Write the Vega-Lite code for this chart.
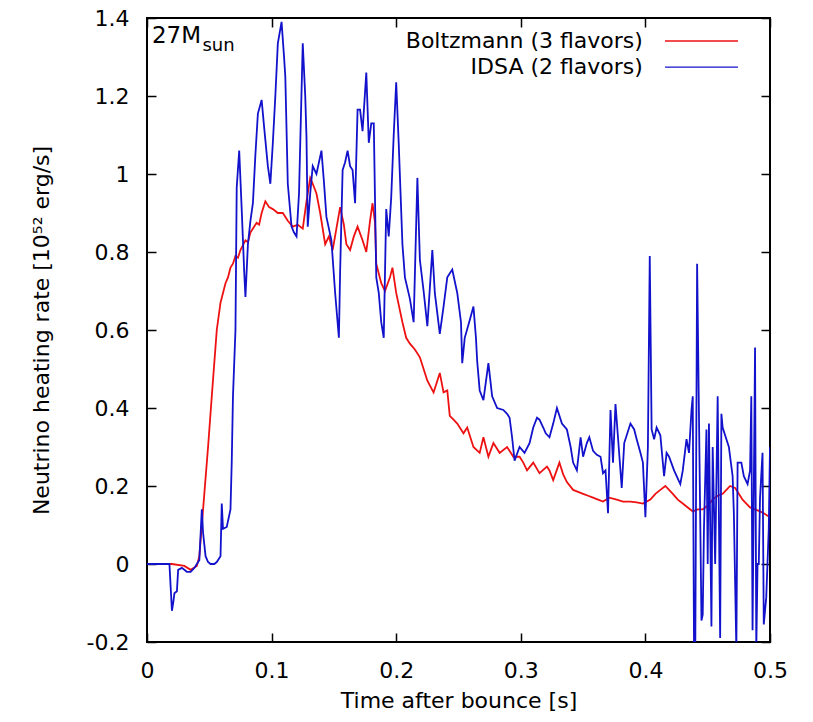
{
  "$schema": "https://vega.github.io/schema/vega-lite/v6.json",
  "width": 623,
  "height": 624,
  "autosize": "none",
  "padding": {"left": 147, "top": 18, "right": 43, "bottom": 80},
  "background": "white",
  "config": {
    "view": {"stroke": "#000", "strokeWidth": 2},
    "font": "DejaVu Sans",
    "axis": {
      "domain": false, "grid": false, "ticks": true, "tickSize": -9, "tickColor": "#000", "tickWidth": 1.5,
      "labelFontSize": 22, "labelColor": "#000", "labelFont": "DejaVu Sans", "labelFlush": false, "labelOverlap": false,
      "titleFontSize": 22, "titleColor": "#000", "titleFontWeight": "normal", "titleFont": "DejaVu Sans"
    }
  },
  "datasets": {
    "curves": [
      {"series": "Boltzmann (3 flavors)", "t": 0.000, "rate": 0},
      {"series": "Boltzmann (3 flavors)", "t": 0.020, "rate": 0},
      {"series": "Boltzmann (3 flavors)", "t": 0.030, "rate": -0.005},
      {"series": "Boltzmann (3 flavors)", "t": 0.035, "rate": -0.015},
      {"series": "Boltzmann (3 flavors)", "t": 0.040, "rate": -0.005},
      {"series": "Boltzmann (3 flavors)", "t": 0.042, "rate": 0.02},
      {"series": "Boltzmann (3 flavors)", "t": 0.045, "rate": 0.14},
      {"series": "Boltzmann (3 flavors)", "t": 0.049, "rate": 0.30},
      {"series": "Boltzmann (3 flavors)", "t": 0.052, "rate": 0.43},
      {"series": "Boltzmann (3 flavors)", "t": 0.056, "rate": 0.60},
      {"series": "Boltzmann (3 flavors)", "t": 0.059, "rate": 0.67},
      {"series": "Boltzmann (3 flavors)", "t": 0.063, "rate": 0.72},
      {"series": "Boltzmann (3 flavors)", "t": 0.065, "rate": 0.735},
      {"series": "Boltzmann (3 flavors)", "t": 0.067, "rate": 0.76},
      {"series": "Boltzmann (3 flavors)", "t": 0.069, "rate": 0.77},
      {"series": "Boltzmann (3 flavors)", "t": 0.071, "rate": 0.79},
      {"series": "Boltzmann (3 flavors)", "t": 0.073, "rate": 0.785},
      {"series": "Boltzmann (3 flavors)", "t": 0.075, "rate": 0.805},
      {"series": "Boltzmann (3 flavors)", "t": 0.079, "rate": 0.83},
      {"series": "Boltzmann (3 flavors)", "t": 0.081, "rate": 0.825},
      {"series": "Boltzmann (3 flavors)", "t": 0.083, "rate": 0.85},
      {"series": "Boltzmann (3 flavors)", "t": 0.088, "rate": 0.875},
      {"series": "Boltzmann (3 flavors)", "t": 0.090, "rate": 0.87},
      {"series": "Boltzmann (3 flavors)", "t": 0.092, "rate": 0.90},
      {"series": "Boltzmann (3 flavors)", "t": 0.095, "rate": 0.93},
      {"series": "Boltzmann (3 flavors)", "t": 0.098, "rate": 0.915},
      {"series": "Boltzmann (3 flavors)", "t": 0.101, "rate": 0.91},
      {"series": "Boltzmann (3 flavors)", "t": 0.105, "rate": 0.90},
      {"series": "Boltzmann (3 flavors)", "t": 0.109, "rate": 0.90},
      {"series": "Boltzmann (3 flavors)", "t": 0.113, "rate": 0.88},
      {"series": "Boltzmann (3 flavors)", "t": 0.117, "rate": 0.865},
      {"series": "Boltzmann (3 flavors)", "t": 0.121, "rate": 0.87},
      {"series": "Boltzmann (3 flavors)", "t": 0.125, "rate": 0.86},
      {"series": "Boltzmann (3 flavors)", "t": 0.128, "rate": 0.93},
      {"series": "Boltzmann (3 flavors)", "t": 0.131, "rate": 0.99},
      {"series": "Boltzmann (3 flavors)", "t": 0.133, "rate": 0.975},
      {"series": "Boltzmann (3 flavors)", "t": 0.136, "rate": 0.95},
      {"series": "Boltzmann (3 flavors)", "t": 0.139, "rate": 0.90},
      {"series": "Boltzmann (3 flavors)", "t": 0.143, "rate": 0.82},
      {"series": "Boltzmann (3 flavors)", "t": 0.146, "rate": 0.84},
      {"series": "Boltzmann (3 flavors)", "t": 0.149, "rate": 0.805},
      {"series": "Boltzmann (3 flavors)", "t": 0.152, "rate": 0.86},
      {"series": "Boltzmann (3 flavors)", "t": 0.155, "rate": 0.915},
      {"series": "Boltzmann (3 flavors)", "t": 0.158, "rate": 0.87},
      {"series": "Boltzmann (3 flavors)", "t": 0.160, "rate": 0.82},
      {"series": "Boltzmann (3 flavors)", "t": 0.163, "rate": 0.805},
      {"series": "Boltzmann (3 flavors)", "t": 0.166, "rate": 0.84},
      {"series": "Boltzmann (3 flavors)", "t": 0.169, "rate": 0.865},
      {"series": "Boltzmann (3 flavors)", "t": 0.173, "rate": 0.83},
      {"series": "Boltzmann (3 flavors)", "t": 0.176, "rate": 0.80},
      {"series": "Boltzmann (3 flavors)", "t": 0.179, "rate": 0.88},
      {"series": "Boltzmann (3 flavors)", "t": 0.181, "rate": 0.925},
      {"series": "Boltzmann (3 flavors)", "t": 0.183, "rate": 0.875},
      {"series": "Boltzmann (3 flavors)", "t": 0.184, "rate": 0.77},
      {"series": "Boltzmann (3 flavors)", "t": 0.188, "rate": 0.72},
      {"series": "Boltzmann (3 flavors)", "t": 0.191, "rate": 0.70},
      {"series": "Boltzmann (3 flavors)", "t": 0.195, "rate": 0.735},
      {"series": "Boltzmann (3 flavors)", "t": 0.197, "rate": 0.76},
      {"series": "Boltzmann (3 flavors)", "t": 0.200, "rate": 0.695},
      {"series": "Boltzmann (3 flavors)", "t": 0.205, "rate": 0.62},
      {"series": "Boltzmann (3 flavors)", "t": 0.208, "rate": 0.58},
      {"series": "Boltzmann (3 flavors)", "t": 0.211, "rate": 0.565},
      {"series": "Boltzmann (3 flavors)", "t": 0.215, "rate": 0.55},
      {"series": "Boltzmann (3 flavors)", "t": 0.219, "rate": 0.53},
      {"series": "Boltzmann (3 flavors)", "t": 0.222, "rate": 0.50},
      {"series": "Boltzmann (3 flavors)", "t": 0.225, "rate": 0.47},
      {"series": "Boltzmann (3 flavors)", "t": 0.230, "rate": 0.44},
      {"series": "Boltzmann (3 flavors)", "t": 0.235, "rate": 0.49},
      {"series": "Boltzmann (3 flavors)", "t": 0.238, "rate": 0.44},
      {"series": "Boltzmann (3 flavors)", "t": 0.241, "rate": 0.445},
      {"series": "Boltzmann (3 flavors)", "t": 0.243, "rate": 0.38},
      {"series": "Boltzmann (3 flavors)", "t": 0.246, "rate": 0.37},
      {"series": "Boltzmann (3 flavors)", "t": 0.249, "rate": 0.36},
      {"series": "Boltzmann (3 flavors)", "t": 0.254, "rate": 0.335},
      {"series": "Boltzmann (3 flavors)", "t": 0.257, "rate": 0.35},
      {"series": "Boltzmann (3 flavors)", "t": 0.260, "rate": 0.32},
      {"series": "Boltzmann (3 flavors)", "t": 0.262, "rate": 0.30},
      {"series": "Boltzmann (3 flavors)", "t": 0.267, "rate": 0.285},
      {"series": "Boltzmann (3 flavors)", "t": 0.270, "rate": 0.325},
      {"series": "Boltzmann (3 flavors)", "t": 0.274, "rate": 0.275},
      {"series": "Boltzmann (3 flavors)", "t": 0.278, "rate": 0.31},
      {"series": "Boltzmann (3 flavors)", "t": 0.283, "rate": 0.285},
      {"series": "Boltzmann (3 flavors)", "t": 0.289, "rate": 0.30},
      {"series": "Boltzmann (3 flavors)", "t": 0.294, "rate": 0.275},
      {"series": "Boltzmann (3 flavors)", "t": 0.299, "rate": 0.275},
      {"series": "Boltzmann (3 flavors)", "t": 0.302, "rate": 0.26},
      {"series": "Boltzmann (3 flavors)", "t": 0.305, "rate": 0.24},
      {"series": "Boltzmann (3 flavors)", "t": 0.310, "rate": 0.26},
      {"series": "Boltzmann (3 flavors)", "t": 0.315, "rate": 0.233},
      {"series": "Boltzmann (3 flavors)", "t": 0.321, "rate": 0.25},
      {"series": "Boltzmann (3 flavors)", "t": 0.323, "rate": 0.24},
      {"series": "Boltzmann (3 flavors)", "t": 0.326, "rate": 0.215},
      {"series": "Boltzmann (3 flavors)", "t": 0.331, "rate": 0.26},
      {"series": "Boltzmann (3 flavors)", "t": 0.334, "rate": 0.23},
      {"series": "Boltzmann (3 flavors)", "t": 0.337, "rate": 0.21},
      {"series": "Boltzmann (3 flavors)", "t": 0.342, "rate": 0.19},
      {"series": "Boltzmann (3 flavors)", "t": 0.346, "rate": 0.185},
      {"series": "Boltzmann (3 flavors)", "t": 0.350, "rate": 0.18},
      {"series": "Boltzmann (3 flavors)", "t": 0.354, "rate": 0.175},
      {"series": "Boltzmann (3 flavors)", "t": 0.358, "rate": 0.17},
      {"series": "Boltzmann (3 flavors)", "t": 0.362, "rate": 0.165},
      {"series": "Boltzmann (3 flavors)", "t": 0.366, "rate": 0.16},
      {"series": "Boltzmann (3 flavors)", "t": 0.371, "rate": 0.17},
      {"series": "Boltzmann (3 flavors)", "t": 0.377, "rate": 0.165},
      {"series": "Boltzmann (3 flavors)", "t": 0.382, "rate": 0.16},
      {"series": "Boltzmann (3 flavors)", "t": 0.388, "rate": 0.16},
      {"series": "Boltzmann (3 flavors)", "t": 0.393, "rate": 0.158},
      {"series": "Boltzmann (3 flavors)", "t": 0.398, "rate": 0.155},
      {"series": "Boltzmann (3 flavors)", "t": 0.404, "rate": 0.165},
      {"series": "Boltzmann (3 flavors)", "t": 0.408, "rate": 0.18},
      {"series": "Boltzmann (3 flavors)", "t": 0.412, "rate": 0.19},
      {"series": "Boltzmann (3 flavors)", "t": 0.416, "rate": 0.20},
      {"series": "Boltzmann (3 flavors)", "t": 0.419, "rate": 0.19},
      {"series": "Boltzmann (3 flavors)", "t": 0.422, "rate": 0.18},
      {"series": "Boltzmann (3 flavors)", "t": 0.426, "rate": 0.165},
      {"series": "Boltzmann (3 flavors)", "t": 0.430, "rate": 0.155},
      {"series": "Boltzmann (3 flavors)", "t": 0.434, "rate": 0.145},
      {"series": "Boltzmann (3 flavors)", "t": 0.438, "rate": 0.135},
      {"series": "Boltzmann (3 flavors)", "t": 0.442, "rate": 0.14},
      {"series": "Boltzmann (3 flavors)", "t": 0.446, "rate": 0.14},
      {"series": "Boltzmann (3 flavors)", "t": 0.450, "rate": 0.15},
      {"series": "Boltzmann (3 flavors)", "t": 0.454, "rate": 0.165},
      {"series": "Boltzmann (3 flavors)", "t": 0.458, "rate": 0.175},
      {"series": "Boltzmann (3 flavors)", "t": 0.462, "rate": 0.18},
      {"series": "Boltzmann (3 flavors)", "t": 0.465, "rate": 0.19},
      {"series": "Boltzmann (3 flavors)", "t": 0.468, "rate": 0.20},
      {"series": "Boltzmann (3 flavors)", "t": 0.472, "rate": 0.195},
      {"series": "Boltzmann (3 flavors)", "t": 0.475, "rate": 0.18},
      {"series": "Boltzmann (3 flavors)", "t": 0.478, "rate": 0.165},
      {"series": "Boltzmann (3 flavors)", "t": 0.481, "rate": 0.155},
      {"series": "Boltzmann (3 flavors)", "t": 0.484, "rate": 0.145},
      {"series": "Boltzmann (3 flavors)", "t": 0.488, "rate": 0.14},
      {"series": "Boltzmann (3 flavors)", "t": 0.492, "rate": 0.135},
      {"series": "Boltzmann (3 flavors)", "t": 0.495, "rate": 0.13},
      {"series": "Boltzmann (3 flavors)", "t": 0.500, "rate": 0.12},
      {"series": "IDSA (2 flavors)", "t": 0.000, "rate": 0},
      {"series": "IDSA (2 flavors)", "t": 0.018, "rate": 0},
      {"series": "IDSA (2 flavors)", "t": 0.019, "rate": -0.06},
      {"series": "IDSA (2 flavors)", "t": 0.020, "rate": -0.12},
      {"series": "IDSA (2 flavors)", "t": 0.021, "rate": -0.10},
      {"series": "IDSA (2 flavors)", "t": 0.022, "rate": -0.075},
      {"series": "IDSA (2 flavors)", "t": 0.024, "rate": -0.07},
      {"series": "IDSA (2 flavors)", "t": 0.025, "rate": -0.015},
      {"series": "IDSA (2 flavors)", "t": 0.028, "rate": -0.01},
      {"series": "IDSA (2 flavors)", "t": 0.032, "rate": -0.02},
      {"series": "IDSA (2 flavors)", "t": 0.035, "rate": -0.02},
      {"series": "IDSA (2 flavors)", "t": 0.038, "rate": -0.01},
      {"series": "IDSA (2 flavors)", "t": 0.040, "rate": 0.0},
      {"series": "IDSA (2 flavors)", "t": 0.042, "rate": 0.01},
      {"series": "IDSA (2 flavors)", "t": 0.044, "rate": 0.14},
      {"series": "IDSA (2 flavors)", "t": 0.045, "rate": 0.08},
      {"series": "IDSA (2 flavors)", "t": 0.047, "rate": 0.02},
      {"series": "IDSA (2 flavors)", "t": 0.049, "rate": 0.005},
      {"series": "IDSA (2 flavors)", "t": 0.051, "rate": 0.0},
      {"series": "IDSA (2 flavors)", "t": 0.054, "rate": 0.0},
      {"series": "IDSA (2 flavors)", "t": 0.056, "rate": 0.005},
      {"series": "IDSA (2 flavors)", "t": 0.059, "rate": 0.02},
      {"series": "IDSA (2 flavors)", "t": 0.060, "rate": 0.155},
      {"series": "IDSA (2 flavors)", "t": 0.061, "rate": 0.09},
      {"series": "IDSA (2 flavors)", "t": 0.064, "rate": 0.095},
      {"series": "IDSA (2 flavors)", "t": 0.067, "rate": 0.14},
      {"series": "IDSA (2 flavors)", "t": 0.068, "rate": 0.26},
      {"series": "IDSA (2 flavors)", "t": 0.069, "rate": 0.43},
      {"series": "IDSA (2 flavors)", "t": 0.071, "rate": 0.60},
      {"series": "IDSA (2 flavors)", "t": 0.072, "rate": 0.965},
      {"series": "IDSA (2 flavors)", "t": 0.074, "rate": 1.06},
      {"series": "IDSA (2 flavors)", "t": 0.076, "rate": 0.91},
      {"series": "IDSA (2 flavors)", "t": 0.078, "rate": 0.75},
      {"series": "IDSA (2 flavors)", "t": 0.079, "rate": 0.685},
      {"series": "IDSA (2 flavors)", "t": 0.081, "rate": 0.82},
      {"series": "IDSA (2 flavors)", "t": 0.083, "rate": 0.88},
      {"series": "IDSA (2 flavors)", "t": 0.085, "rate": 0.925},
      {"series": "IDSA (2 flavors)", "t": 0.087, "rate": 1.05},
      {"series": "IDSA (2 flavors)", "t": 0.089, "rate": 1.155},
      {"series": "IDSA (2 flavors)", "t": 0.092, "rate": 1.19},
      {"series": "IDSA (2 flavors)", "t": 0.094, "rate": 1.12},
      {"series": "IDSA (2 flavors)", "t": 0.097, "rate": 1.02},
      {"series": "IDSA (2 flavors)", "t": 0.099, "rate": 0.975},
      {"series": "IDSA (2 flavors)", "t": 0.101, "rate": 1.08},
      {"series": "IDSA (2 flavors)", "t": 0.103, "rate": 1.2},
      {"series": "IDSA (2 flavors)", "t": 0.105, "rate": 1.335},
      {"series": "IDSA (2 flavors)", "t": 0.108, "rate": 1.39},
      {"series": "IDSA (2 flavors)", "t": 0.110, "rate": 1.30},
      {"series": "IDSA (2 flavors)", "t": 0.111, "rate": 1.25},
      {"series": "IDSA (2 flavors)", "t": 0.113, "rate": 0.975},
      {"series": "IDSA (2 flavors)", "t": 0.116, "rate": 0.865},
      {"series": "IDSA (2 flavors)", "t": 0.118, "rate": 0.85},
      {"series": "IDSA (2 flavors)", "t": 0.120, "rate": 0.84},
      {"series": "IDSA (2 flavors)", "t": 0.122, "rate": 0.95},
      {"series": "IDSA (2 flavors)", "t": 0.123, "rate": 1.08},
      {"series": "IDSA (2 flavors)", "t": 0.125, "rate": 1.335},
      {"series": "IDSA (2 flavors)", "t": 0.127, "rate": 1.2},
      {"series": "IDSA (2 flavors)", "t": 0.128, "rate": 1.095},
      {"series": "IDSA (2 flavors)", "t": 0.129, "rate": 0.865},
      {"series": "IDSA (2 flavors)", "t": 0.131, "rate": 0.95},
      {"series": "IDSA (2 flavors)", "t": 0.133, "rate": 1.02},
      {"series": "IDSA (2 flavors)", "t": 0.136, "rate": 1.00},
      {"series": "IDSA (2 flavors)", "t": 0.140, "rate": 1.06},
      {"series": "IDSA (2 flavors)", "t": 0.142, "rate": 0.98},
      {"series": "IDSA (2 flavors)", "t": 0.144, "rate": 0.89},
      {"series": "IDSA (2 flavors)", "t": 0.146, "rate": 0.86},
      {"series": "IDSA (2 flavors)", "t": 0.148, "rate": 0.83},
      {"series": "IDSA (2 flavors)", "t": 0.151, "rate": 0.695},
      {"series": "IDSA (2 flavors)", "t": 0.154, "rate": 0.58},
      {"series": "IDSA (2 flavors)", "t": 0.155, "rate": 0.75},
      {"series": "IDSA (2 flavors)", "t": 0.157, "rate": 1.01},
      {"series": "IDSA (2 flavors)", "t": 0.159, "rate": 1.03},
      {"series": "IDSA (2 flavors)", "t": 0.161, "rate": 1.06},
      {"series": "IDSA (2 flavors)", "t": 0.163, "rate": 1.02},
      {"series": "IDSA (2 flavors)", "t": 0.165, "rate": 1.01},
      {"series": "IDSA (2 flavors)", "t": 0.167, "rate": 0.925},
      {"series": "IDSA (2 flavors)", "t": 0.169, "rate": 1.165},
      {"series": "IDSA (2 flavors)", "t": 0.171, "rate": 1.165},
      {"series": "IDSA (2 flavors)", "t": 0.173, "rate": 1.11},
      {"series": "IDSA (2 flavors)", "t": 0.176, "rate": 1.26},
      {"series": "IDSA (2 flavors)", "t": 0.178, "rate": 1.08},
      {"series": "IDSA (2 flavors)", "t": 0.180, "rate": 1.13},
      {"series": "IDSA (2 flavors)", "t": 0.182, "rate": 1.13},
      {"series": "IDSA (2 flavors)", "t": 0.184, "rate": 0.735},
      {"series": "IDSA (2 flavors)", "t": 0.186, "rate": 0.695},
      {"series": "IDSA (2 flavors)", "t": 0.188, "rate": 0.62},
      {"series": "IDSA (2 flavors)", "t": 0.190, "rate": 0.58},
      {"series": "IDSA (2 flavors)", "t": 0.192, "rate": 0.91},
      {"series": "IDSA (2 flavors)", "t": 0.194, "rate": 0.84},
      {"series": "IDSA (2 flavors)", "t": 0.196, "rate": 0.94},
      {"series": "IDSA (2 flavors)", "t": 0.198, "rate": 1.10},
      {"series": "IDSA (2 flavors)", "t": 0.200, "rate": 1.235},
      {"series": "IDSA (2 flavors)", "t": 0.202, "rate": 1.08},
      {"series": "IDSA (2 flavors)", "t": 0.205, "rate": 0.82},
      {"series": "IDSA (2 flavors)", "t": 0.207, "rate": 0.735},
      {"series": "IDSA (2 flavors)", "t": 0.211, "rate": 0.68},
      {"series": "IDSA (2 flavors)", "t": 0.214, "rate": 0.62},
      {"series": "IDSA (2 flavors)", "t": 0.217, "rate": 0.99},
      {"series": "IDSA (2 flavors)", "t": 0.219, "rate": 0.78},
      {"series": "IDSA (2 flavors)", "t": 0.222, "rate": 0.70},
      {"series": "IDSA (2 flavors)", "t": 0.225, "rate": 0.61},
      {"series": "IDSA (2 flavors)", "t": 0.229, "rate": 0.805},
      {"series": "IDSA (2 flavors)", "t": 0.231, "rate": 0.695},
      {"series": "IDSA (2 flavors)", "t": 0.235, "rate": 0.59},
      {"series": "IDSA (2 flavors)", "t": 0.238, "rate": 0.66},
      {"series": "IDSA (2 flavors)", "t": 0.241, "rate": 0.735},
      {"series": "IDSA (2 flavors)", "t": 0.245, "rate": 0.755},
      {"series": "IDSA (2 flavors)", "t": 0.249, "rate": 0.695},
      {"series": "IDSA (2 flavors)", "t": 0.252, "rate": 0.62},
      {"series": "IDSA (2 flavors)", "t": 0.253, "rate": 0.515},
      {"series": "IDSA (2 flavors)", "t": 0.255, "rate": 0.58},
      {"series": "IDSA (2 flavors)", "t": 0.259, "rate": 0.625},
      {"series": "IDSA (2 flavors)", "t": 0.262, "rate": 0.66},
      {"series": "IDSA (2 flavors)", "t": 0.264, "rate": 0.58},
      {"series": "IDSA (2 flavors)", "t": 0.265, "rate": 0.52},
      {"series": "IDSA (2 flavors)", "t": 0.267, "rate": 0.445},
      {"series": "IDSA (2 flavors)", "t": 0.270, "rate": 0.42},
      {"series": "IDSA (2 flavors)", "t": 0.274, "rate": 0.515},
      {"series": "IDSA (2 flavors)", "t": 0.277, "rate": 0.43},
      {"series": "IDSA (2 flavors)", "t": 0.281, "rate": 0.40},
      {"series": "IDSA (2 flavors)", "t": 0.286, "rate": 0.395},
      {"series": "IDSA (2 flavors)", "t": 0.289, "rate": 0.385},
      {"series": "IDSA (2 flavors)", "t": 0.291, "rate": 0.375},
      {"series": "IDSA (2 flavors)", "t": 0.293, "rate": 0.325},
      {"series": "IDSA (2 flavors)", "t": 0.295, "rate": 0.265},
      {"series": "IDSA (2 flavors)", "t": 0.299, "rate": 0.30},
      {"series": "IDSA (2 flavors)", "t": 0.303, "rate": 0.285},
      {"series": "IDSA (2 flavors)", "t": 0.307, "rate": 0.31},
      {"series": "IDSA (2 flavors)", "t": 0.310, "rate": 0.35},
      {"series": "IDSA (2 flavors)", "t": 0.313, "rate": 0.375},
      {"series": "IDSA (2 flavors)", "t": 0.315, "rate": 0.37},
      {"series": "IDSA (2 flavors)", "t": 0.318, "rate": 0.35},
      {"series": "IDSA (2 flavors)", "t": 0.320, "rate": 0.335},
      {"series": "IDSA (2 flavors)", "t": 0.323, "rate": 0.325},
      {"series": "IDSA (2 flavors)", "t": 0.326, "rate": 0.36},
      {"series": "IDSA (2 flavors)", "t": 0.329, "rate": 0.40},
      {"series": "IDSA (2 flavors)", "t": 0.333, "rate": 0.36},
      {"series": "IDSA (2 flavors)", "t": 0.337, "rate": 0.345},
      {"series": "IDSA (2 flavors)", "t": 0.340, "rate": 0.30},
      {"series": "IDSA (2 flavors)", "t": 0.342, "rate": 0.26},
      {"series": "IDSA (2 flavors)", "t": 0.345, "rate": 0.24},
      {"series": "IDSA (2 flavors)", "t": 0.348, "rate": 0.325},
      {"series": "IDSA (2 flavors)", "t": 0.350, "rate": 0.275},
      {"series": "IDSA (2 flavors)", "t": 0.353, "rate": 0.31},
      {"series": "IDSA (2 flavors)", "t": 0.355, "rate": 0.325},
      {"series": "IDSA (2 flavors)", "t": 0.358, "rate": 0.29},
      {"series": "IDSA (2 flavors)", "t": 0.361, "rate": 0.28},
      {"series": "IDSA (2 flavors)", "t": 0.364, "rate": 0.275},
      {"series": "IDSA (2 flavors)", "t": 0.366, "rate": 0.233},
      {"series": "IDSA (2 flavors)", "t": 0.368, "rate": 0.24},
      {"series": "IDSA (2 flavors)", "t": 0.370, "rate": 0.13},
      {"series": "IDSA (2 flavors)", "t": 0.372, "rate": 0.395},
      {"series": "IDSA (2 flavors)", "t": 0.374, "rate": 0.26},
      {"series": "IDSA (2 flavors)", "t": 0.376, "rate": 0.41},
      {"series": "IDSA (2 flavors)", "t": 0.378, "rate": 0.325},
      {"series": "IDSA (2 flavors)", "t": 0.381, "rate": 0.195},
      {"series": "IDSA (2 flavors)", "t": 0.383, "rate": 0.31},
      {"series": "IDSA (2 flavors)", "t": 0.388, "rate": 0.36},
      {"series": "IDSA (2 flavors)", "t": 0.391, "rate": 0.345},
      {"series": "IDSA (2 flavors)", "t": 0.393, "rate": 0.32},
      {"series": "IDSA (2 flavors)", "t": 0.396, "rate": 0.285},
      {"series": "IDSA (2 flavors)", "t": 0.398, "rate": 0.26},
      {"series": "IDSA (2 flavors)", "t": 0.400, "rate": 0.12},
      {"series": "IDSA (2 flavors)", "t": 0.402, "rate": 0.30},
      {"series": "IDSA (2 flavors)", "t": 0.4035, "rate": 0.79},
      {"series": "IDSA (2 flavors)", "t": 0.405, "rate": 0.345},
      {"series": "IDSA (2 flavors)", "t": 0.407, "rate": 0.32},
      {"series": "IDSA (2 flavors)", "t": 0.409, "rate": 0.35},
      {"series": "IDSA (2 flavors)", "t": 0.412, "rate": 0.33},
      {"series": "IDSA (2 flavors)", "t": 0.415, "rate": 0.225},
      {"series": "IDSA (2 flavors)", "t": 0.417, "rate": 0.285},
      {"series": "IDSA (2 flavors)", "t": 0.419, "rate": 0.275},
      {"series": "IDSA (2 flavors)", "t": 0.423, "rate": 0.24},
      {"series": "IDSA (2 flavors)", "t": 0.428, "rate": 0.205},
      {"series": "IDSA (2 flavors)", "t": 0.430, "rate": 0.24},
      {"series": "IDSA (2 flavors)", "t": 0.433, "rate": 0.32},
      {"series": "IDSA (2 flavors)", "t": 0.435, "rate": 0.285},
      {"series": "IDSA (2 flavors)", "t": 0.437, "rate": 0.395},
      {"series": "IDSA (2 flavors)", "t": 0.438, "rate": 0.43},
      {"series": "IDSA (2 flavors)", "t": 0.439, "rate": -0.2},
      {"series": "IDSA (2 flavors)", "t": 0.440, "rate": -0.25},
      {"series": "IDSA (2 flavors)", "t": 0.4415, "rate": 0.77},
      {"series": "IDSA (2 flavors)", "t": 0.443, "rate": 0.38},
      {"series": "IDSA (2 flavors)", "t": 0.445, "rate": -0.145},
      {"series": "IDSA (2 flavors)", "t": 0.446, "rate": -0.13},
      {"series": "IDSA (2 flavors)", "t": 0.447, "rate": 0.09},
      {"series": "IDSA (2 flavors)", "t": 0.449, "rate": 0.345},
      {"series": "IDSA (2 flavors)", "t": 0.450, "rate": 0.0},
      {"series": "IDSA (2 flavors)", "t": 0.451, "rate": 0.36},
      {"series": "IDSA (2 flavors)", "t": 0.453, "rate": -0.16},
      {"series": "IDSA (2 flavors)", "t": 0.454, "rate": 0.30},
      {"series": "IDSA (2 flavors)", "t": 0.456, "rate": 0.0},
      {"series": "IDSA (2 flavors)", "t": 0.458, "rate": 0.43},
      {"series": "IDSA (2 flavors)", "t": 0.460, "rate": -0.19},
      {"series": "IDSA (2 flavors)", "t": 0.461, "rate": 0.385},
      {"series": "IDSA (2 flavors)", "t": 0.462, "rate": 0.35},
      {"series": "IDSA (2 flavors)", "t": 0.465, "rate": 0.32},
      {"series": "IDSA (2 flavors)", "t": 0.467, "rate": 0.30},
      {"series": "IDSA (2 flavors)", "t": 0.470, "rate": 0.225},
      {"series": "IDSA (2 flavors)", "t": 0.471, "rate": 0.13},
      {"series": "IDSA (2 flavors)", "t": 0.473, "rate": -0.22},
      {"series": "IDSA (2 flavors)", "t": 0.474, "rate": 0.26},
      {"series": "IDSA (2 flavors)", "t": 0.477, "rate": 0.26},
      {"series": "IDSA (2 flavors)", "t": 0.479, "rate": 0.225},
      {"series": "IDSA (2 flavors)", "t": 0.482, "rate": 0.205},
      {"series": "IDSA (2 flavors)", "t": 0.484, "rate": 0.24},
      {"series": "IDSA (2 flavors)", "t": 0.485, "rate": 0.43},
      {"series": "IDSA (2 flavors)", "t": 0.486, "rate": -0.17},
      {"series": "IDSA (2 flavors)", "t": 0.488, "rate": 0.555},
      {"series": "IDSA (2 flavors)", "t": 0.489, "rate": -0.22},
      {"series": "IDSA (2 flavors)", "t": 0.490, "rate": 0.0},
      {"series": "IDSA (2 flavors)", "t": 0.491, "rate": 0.0},
      {"series": "IDSA (2 flavors)", "t": 0.492, "rate": 0.17},
      {"series": "IDSA (2 flavors)", "t": 0.494, "rate": 0.285},
      {"series": "IDSA (2 flavors)", "t": 0.495, "rate": -0.155},
      {"series": "IDSA (2 flavors)", "t": 0.497, "rate": -0.085},
      {"series": "IDSA (2 flavors)", "t": 0.499, "rate": 0.09},
      {"series": "IDSA (2 flavors)", "t": 0.500, "rate": 0.3}
    ]
  },
  "layer": [
    {
      "data": {"name": "curves"},
      "mark": {"type": "line", "strokeWidth": 1.8, "clip": true},
      "encoding": {
        "x": {
          "field": "t", "type": "quantitative",
          "scale": {"domain": [0, 0.5], "nice": false, "zero": false},
          "axis": {"orient": "bottom", "values": [0, 0.1, 0.2, 0.3, 0.4, 0.5], "format": ".1~f", "labelPadding": 27, "title": "Time after bounce [s]", "titlePadding": 9}
        },
        "y": {
          "field": "rate", "type": "quantitative",
          "scale": {"domain": [-0.2, 1.4], "nice": false, "zero": false},
          "axis": {"orient": "left", "values": [-0.2, 0, 0.2, 0.4, 0.6, 0.8, 1, 1.2, 1.4], "labelExpr": "datum.value < 0 ? '-' + format(-datum.value, '~g') : format(datum.value, '~g')", "labelPadding": 27, "title": "Neutrino heating rate [10⁵² erg/s]", "titlePadding": 33}
        },
        "color": {
          "field": "series", "type": "nominal",
          "scale": {"domain": ["Boltzmann (3 flavors)", "IDSA (2 flavors)"], "range": ["#ee1111", "#1212cc"]},
          "legend": null
        }
      }
    },
    {
      "data": {"name": "curves"},
      "mark": {"type": "point", "opacity": 0},
      "encoding": {
        "x": {"field": "t", "type": "quantitative", "axis": {"orient": "top", "values": [0, 0.1, 0.2, 0.3, 0.4, 0.5], "labels": false, "title": null}},
        "y": {"field": "rate", "type": "quantitative", "axis": {"orient": "right", "values": [-0.2, 0, 0.2, 0.4, 0.6, 0.8, 1, 1.2, 1.4], "labels": false, "title": null}}
      }
    },
    {
      "data": {"values": [{"label": "27M"}]},
      "mark": {"type": "text", "align": "left", "baseline": "alphabetic", "fontSize": 23, "font": "DejaVu Sans", "color": "#000"},
      "encoding": {"x": {"datum": 0.004, "axis": null}, "y": {"datum": 1.336, "axis": null}, "text": {"field": "label"}}
    },
    {
      "data": {"values": [{"label": "sun"}]},
      "mark": {"type": "text", "align": "left", "baseline": "alphabetic", "fontSize": 18, "font": "DejaVu Sans", "color": "#000"},
      "encoding": {"x": {"datum": 0.0445, "axis": null}, "y": {"datum": 1.315, "axis": null}, "text": {"field": "label"}}
    },
    {
      "data": {"values": [{"label": "Boltzmann (3 flavors)"}]},
      "mark": {"type": "text", "align": "right", "baseline": "middle", "fontSize": 22, "font": "DejaVu Sans", "color": "#000"},
      "encoding": {"x": {"datum": 0.398, "axis": null}, "y": {"datum": 1.341, "axis": null}, "text": {"field": "label"}}
    },
    {
      "data": {"values": [{"label": "IDSA (2 flavors)"}]},
      "mark": {"type": "text", "align": "right", "baseline": "middle", "fontSize": 22, "font": "DejaVu Sans", "color": "#000"},
      "encoding": {"x": {"datum": 0.398, "axis": null}, "y": {"datum": 1.274, "axis": null}, "text": {"field": "label"}}
    },
    {
      "data": {"values": [{"series": "Boltzmann (3 flavors)"}]},
      "mark": {"type": "rule", "strokeWidth": 1.3, "color": "#ee1111"},
      "encoding": {"x": {"datum": 0.4157, "axis": null}, "x2": {"datum": 0.4743}, "y": {"datum": 1.341, "axis": null}}
    },
    {
      "data": {"values": [{"series": "IDSA (2 flavors)"}]},
      "mark": {"type": "rule", "strokeWidth": 1.3, "color": "#1212cc"},
      "encoding": {"x": {"datum": 0.4157, "axis": null}, "x2": {"datum": 0.4743}, "y": {"datum": 1.274, "axis": null}}
    }
  ],
  "resolve": {"axis": {"x": "independent", "y": "independent"}}
}
